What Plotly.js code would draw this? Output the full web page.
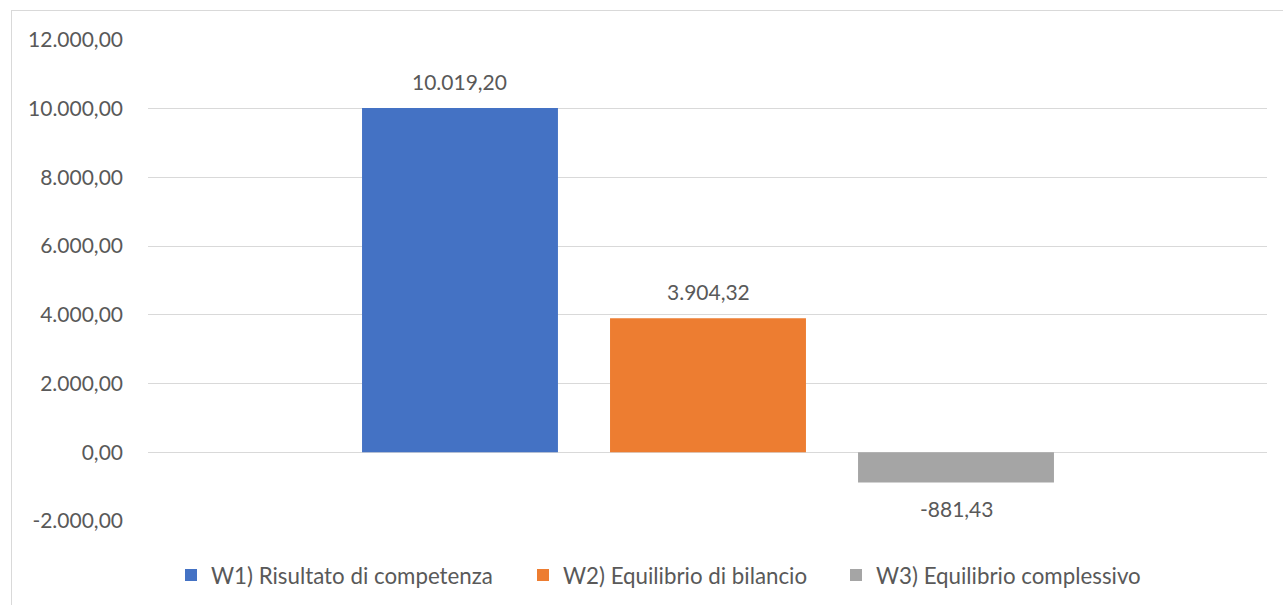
<!DOCTYPE html>
<html>
<head>
<meta charset="utf-8">
<script src="https://cdn.plot.ly/plotly-3.0.1.min.js"></script>
<style>
html,body{margin:0;padding:0;overflow:hidden;background:#fff;}
#wrap{position:relative;width:1283px;height:605px;overflow:hidden;}
#chart{position:absolute;left:0;top:0;width:1283px;height:605px;}
#frame{position:absolute;left:11px;top:10px;width:1400px;height:700px;border:1px solid #D9D9D9;pointer-events:none;}
</style>
</head>
<body>
<div id="wrap"><div id="chart"></div><div id="frame"></div></div>
<script>
const seriesNames = ["W1) Risultato di competenza", "W2) Equilibrio di bilancio", "W3) Equilibrio complessivo"];
const seriesValues = [10019.20, 3904.32, -881.43];
const seriesColors = ["#4472C4", "#ED7D31", "#A5A5A5"];
const yTickValues = [-2000, 0, 2000, 4000, 6000, 8000, 10000, 12000];

const fontFam = "Lato, 'Open Sans', sans-serif";
const fontSize = 21;
const txtColor = "#595959";
const legendEntryWidths = [307, 268, 270];

function fmt(v){
  const neg = v < 0;
  let s = Math.abs(v).toFixed(2);
  let [ip, dp] = s.split(".");
  ip = ip.replace(/\B(?=(\d{3})+(?!\d))/g, ".");
  return (neg ? "-" : "") + ip + "," + dp;
}

const traces = seriesNames.map((name, i) => ({
  type: "bar",
  name: name,
  x: [i],
  y: [seriesValues[i]],
  width: 0.79,
  marker: {color: seriesColors[i]},
  legendwidth: legendEntryWidths[i],
  hoverinfo: "none"
}));

const annotations = seriesValues.map((v, i) => ({
  x: i, y: v, xref: "x", yref: "y",
  text: fmt(v),
  showarrow: false,
  yanchor: "middle",
  yshift: v >= 0 ? 27 : -26,
  font: {family: fontFam, size: fontSize, color: txtColor}
}));

const layout = {
  width: 1283, height: 605,
  margin: {l: 148, r: 16, t: 40, b: 84},
  paper_bgcolor: "rgba(0,0,0,0)",
  plot_bgcolor: "#fff",
  barmode: "overlay",
  showlegend: true,
  font: {family: fontFam, size: fontSize, color: txtColor},
  xaxis: {
    range: [-1.258, 3.254],
    showticklabels: false, showgrid: false, zeroline: false,
    showline: false, ticks: "", fixedrange: true
  },
  yaxis: {
    range: [-2000, 12000],
    tickmode: "array",
    tickvals: yTickValues,
    ticktext: yTickValues.map(fmt),
    showgrid: true, gridcolor: "#D9D9D9", gridwidth: 1,
    zeroline: true, zerolinecolor: "#D9D9D9", zerolinewidth: 1,
    showline: false, ticks: "",
    ticklabelstandoff: 24,
    tickfont: {family: fontFam, size: fontSize, color: txtColor}
  },
  legend: {
    orientation: "h",
    x: 171/1283, xanchor: "left", xref: "container",
    y: 1 - 575/605, yanchor: "middle",
    yref: "container",
    font: {family: fontFam, size: 22.3, color: txtColor},
    itemwidth: 30,
    traceorder: "normal",
    bgcolor: "rgba(0,0,0,0)"
  },
  annotations: annotations
};

Plotly.newPlot("chart", traces, layout, {displayModeBar: false, staticPlot: true});
</script>
</body>
</html>
